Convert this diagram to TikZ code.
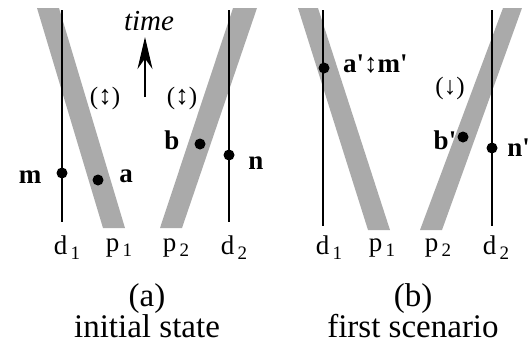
\documentclass[tikz,border=0pt]{standalone}
\usepackage{fontspec}
\setmainfont{Liberation Serif}
\usetikzlibrary{arrows.meta,positioning}
\definecolor{bandgray}{HTML}{AAAAAA}
\newcommand{\sub}[1]{\raisebox{-0.4ex}{\fontsize{19}{19}\selectfont\,#1}}
\newcommand{\dbl}{{\fontsize{27}{27}\selectfont\mdseries ↕}}
\newcommand{\pr}{\textquotesingle}
\tikzset{
  band/.style={fill=bandgray, draw=none},
  world/.style={line width=1.6pt},
  event/.style={circle, fill=black, inner sep=0pt, minimum size=11pt},
  evlab/.style={font=\rmfamily\fontsize{27}{27}\selectfont\bfseries, inner sep=0pt},
  axlab/.style={font=\rmfamily\fontsize{27}{27}\selectfont, inner sep=0pt},
  hint/.style={font=\rmfamily\fontsize{25}{25}\selectfont, inner sep=0pt},
  caption/.style={font=\rmfamily\fontsize{33}{26}\selectfont, inner sep=0pt, align=center},
  flow/.style={-{Stealth[length=32pt, width=15pt]}, line width=2pt},
}

\begin{document}
\begin{tikzpicture}[x=1pt, y=-1pt]
\useasboundingbox (0,0) rectangle (530,354);

% (a) initial state
\fill[band] (37,8) -- (59,8) -- (125,228) -- (103,228) -- cycle;
\fill[band] (233,8) -- (257,8) -- (182,228) -- (160,228) -- cycle;
\coordinate (ad1t) at (62,10);  \coordinate (ad1b) at (62,222);
\coordinate (ad2t) at (229,10); \coordinate (ad2b) at (229,222);
\draw[world] (ad1t) -- (ad1b);
\draw[world] (ad2t) -- (ad2b);

\node[event] (m) at (62,173) {};
\node[event] (a) at (98,180) {};
\node[event] (b) at (200,144) {};
\node[event] (n) at (229,155) {};
\node[evlab] (lm) at (30,177) {m};
\node[evlab] (la) at (126,176) {a};
\node[evlab] (lb) at (172,140) {b};
\node[evlab] (ln) at (256,163) {n};

\node[hint] (ha1) at (105,98) {(\dbl)};
\node[hint] (ha2) at (182,98) {(\dbl)};

\coordinate (tbot) at (145,97);
\coordinate (ttop) at (145,37);
\draw[flow] (tbot) -- (ttop);
\node[font=\rmfamily\fontsize{29}{29}\selectfont\itshape, inner sep=0pt] (time) at (149,21) {time};

\node[axlab] (ald1) at (67,248) {d\sub{1}};
\node[axlab] (alp1) at (119,248) {p\sub{1}};
\node[axlab] (alp2) at (176,248) {p\sub{2}};
\node[axlab] (ald2) at (234,248) {d\sub{2}};

\node[caption] (capa) at (147,311) {(a)\\initial state};

% (b) first scenario
\fill[band] (298,8) -- (318,8) -- (390,230) -- (368,230) -- cycle;
\fill[band] (503,8) -- (522,8) -- (442,230) -- (420,230) -- cycle;
\coordinate (bd1t) at (323,10);  \coordinate (bd1b) at (323,226);
\coordinate (bd2t) at (492,10);  \coordinate (bd2b) at (492,226);
\draw[world] (bd1t) -- (bd1b);
\draw[world] (bd2t) -- (bd2b);

\node[event] (a2) at (324,68) {};
\node[event] (b2) at (463,137) {};
\node[event] (n2) at (492,148) {};
\node[evlab, anchor=west] (la2) at (343,64) {a\pr\dbl m\pr};
\node[evlab] (lb2) at (445,140) {b\pr};
\node[evlab, anchor=east] (ln2) at (530,148) {n\pr};
\node[hint] (hb) at (450,88) {(↓)};

\node[axlab] (bld1) at (329,248) {d\sub{1}};
\node[axlab] (blp1) at (382,248) {p\sub{1}};
\node[axlab] (blp2) at (438,248) {p\sub{2}};
\node[axlab] (bld2) at (496,248) {d\sub{2}};

\node[caption] (capb) at (413,311) {(b)\\first scenario};
\end{tikzpicture}
\end{document}
